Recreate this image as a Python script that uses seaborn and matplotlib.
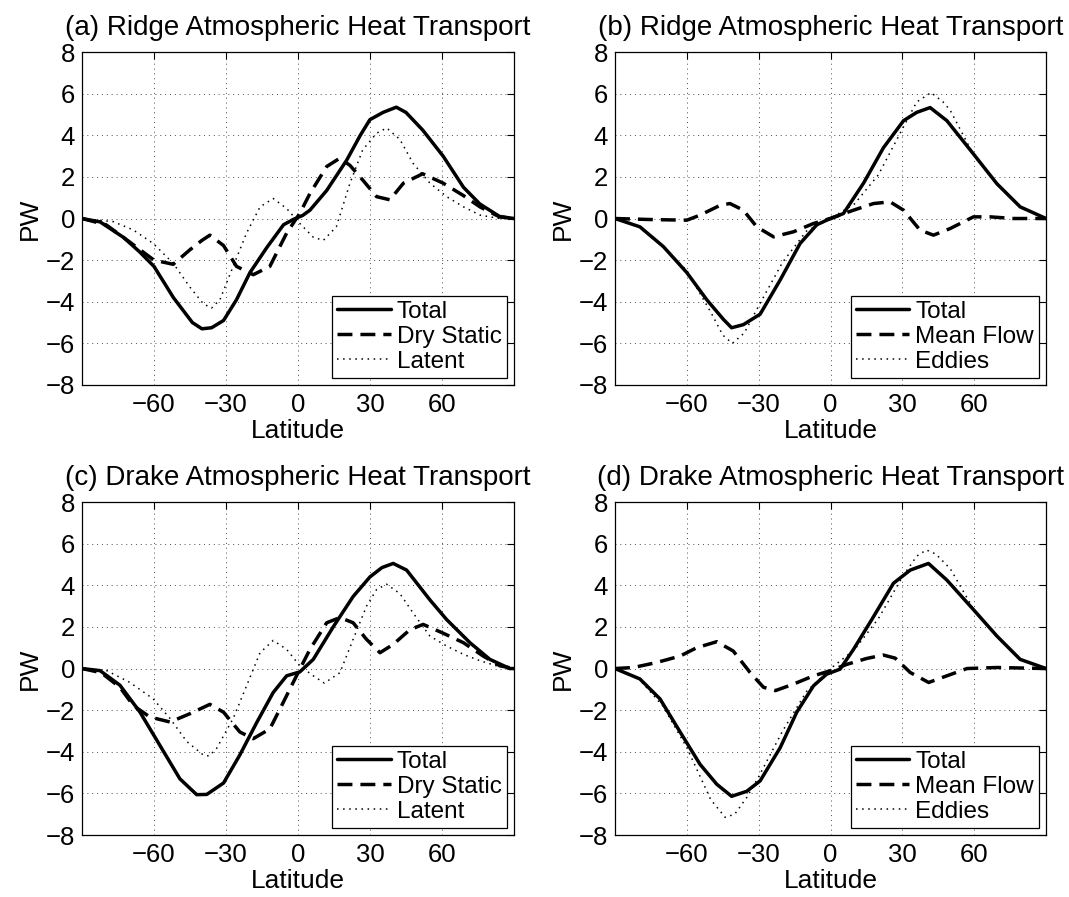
import matplotlib
matplotlib.use('Agg')
import matplotlib.pyplot as plt
import seaborn as sns

# ---- (a) Ridge: Total / Dry Static / Latent ----
lat_a_tot = [-90, -82.5, -72.8, -66, -60, -51.9, -44, -40, -36, -31, -25.6, -20, -13, -6, -2, 0, 2, 5, 12, 20.3, 26, 30, 35.5, 41, 45, 52, 60.5, 69, 75.8, 84, 90]
a_tot = [0, -0.16, -0.9, -1.6, -2.3, -3.8, -5.0, -5.3, -5.25, -4.9, -3.9, -2.6, -1.4, -0.3, -0.05, 0.05, 0.15, 0.4, 1.35, 2.8, 4.0, 4.75, 5.1, 5.35, 5.1, 4.25, 3.0, 1.5, 0.7, 0.1, 0]
lat_a_dry = [-90, -80, -72.8, -60, -52, -45, -40, -36.7, -31, -25.6, -18.6, -11.7, -4.7, 0.8, 5, 12, 17.5, 21.7, 27, 32.8, 38.3, 44, 52, 60.5, 69, 76, 84, 90]
a_dry = [0, -0.3, -0.9, -2.0, -2.2, -1.5, -1.05, -0.8, -1.3, -2.3, -2.7, -2.3, -0.7, 0.25, 1.2, 2.5, 2.9, 2.55, 1.85, 1.05, 0.9, 1.7, 2.15, 1.7, 1.1, 0.55, 0.08, 0]
lat_a_lat = [-90, -77, -68.6, -60.3, -52, -45, -39.4, -36, -32.5, -27, -21.4, -15.8, -10.3, -4.7, 0.8, 6.4, 10.6, 16, 21.7, 27, 32.8, 37, 42.5, 48, 55, 62, 69, 76, 84, 90]
a_lat = [0, -0.15, -0.55, -1.2, -2.15, -3.3, -4.1, -4.3, -3.9, -2.3, -0.7, 0.56, 0.96, 0.48, -0.24, -0.9, -1.05, -0.4, 1.7, 3.3, 4.1, 4.35, 3.8, 2.65, 1.7, 1.05, 0.56, 0.16, 0, 0]

# ---- (b) Ridge: Total / Mean Flow / Eddies ----
lat_b_tot = [-90, -79.6, -69.8, -60, -51.7, -44.7, -41.3, -36.4, -29.4, -21, -12.7, -5.7, -1.6, 5.4, 13.8, 22.1, 30.5, 36, 41.6, 48.6, 59.7, 69.5, 79.2, 90]
b_tot = [0, -0.4, -1.35, -2.6, -3.9, -4.85, -5.25, -5.1, -4.6, -2.95, -1.2, -0.3, -0.08, 0.24, 1.7, 3.4, 4.7, 5.1, 5.33, 4.7, 3.1, 1.67, 0.56, 0]
lat_b_mf = [-90, -75, -60, -54.5, -46, -42, -36.4, -30.8, -23.8, -15.5, -7.1, -0.2, 9.6, 18, 24.9, 30.5, 37.4, 43, 50, 59.7, 66.7, 76.4, 90]
b_mf = [0, -0.05, -0.08, 0.16, 0.64, 0.72, 0.4, -0.4, -0.88, -0.64, -0.24, 0, 0.4, 0.72, 0.8, 0.4, -0.56, -0.8, -0.48, 0.08, 0.08, 0, 0]
lat_b_edd = [-90, -80, -70, -60, -50, -45, -41, -36, -30, -20, -10, 0, 10, 20, 30, 36, 42, 47, 50, 60, 70, 80, 90]
b_edd = [0, -0.4, -1.35, -2.5, -4.5, -5.6, -6.0, -5.5, -4.2, -2.1, -0.6, 0, 0.7, 2.1, 4.3, 5.6, 6.05, 5.6, 5.2, 3.0, 1.6, 0.5, 0]

# ---- (c) Drake: Total / Dry Static / Latent ----
lat_c_tot = [-90, -82.5, -74.2, -65.8, -57.5, -49.2, -42.2, -38, -31, -24.2, -17.2, -10.3, -4.7, 0.8, 6.4, 14.7, 23, 30, 35, 39.7, 45.3, 55, 62, 71.7, 80, 88.3, 90]
c_tot = [0, -0.1, -0.8, -2.1, -3.7, -5.3, -6.06, -6.05, -5.5, -4.15, -2.6, -1.15, -0.35, -0.16, 0.44, 2.0, 3.46, 4.4, 4.85, 5.05, 4.73, 3.3, 2.35, 1.24, 0.44, 0, 0]
lat_c_dry = [-90, -82, -74.2, -68.6, -61.7, -53.3, -45, -36.7, -31, -24.2, -18.6, -11.7, -6, -0.6, 5, 12, 17.5, 23, 28.6, 34.2, 39.7, 46.7, 52.2, 60.5, 69, 77.2, 84.2, 90]
c_dry = [0, -0.2, -0.9, -1.78, -2.33, -2.57, -2.17, -1.72, -2.1, -3.05, -3.37, -2.9, -1.6, -0.35, 0.92, 2.2, 2.45, 2.2, 1.4, 0.76, 1.16, 1.87, 2.12, 1.7, 1.24, 0.6, 0.13, 0]
lat_c_lat = [-90, -79.7, -70, -60.3, -53.3, -46.4, -39.4, -37, -33.9, -27, -21.4, -15.8, -10.3, -4.7, 0.8, 6.4, 11, 17.5, 23, 28.6, 32.8, 37, 42.5, 48, 55, 62, 69, 76, 82.8, 90]
c_lat = [0, -0.1, -0.67, -1.46, -2.4, -3.5, -4.16, -4.2, -3.84, -2.4, -0.83, 0.76, 1.35, 0.92, 0.13, -0.35, -0.7, -0.2, 1.4, 3.0, 3.8, 4.05, 3.6, 2.67, 1.56, 1.08, 0.68, 0.37, 0.13, 0]

# ---- (d) Drake: Total / Mean Flow / Eddies ----
lat_d_tot = [-90, -79.6, -71.2, -62.8, -54.5, -47.5, -41.3, -35, -29.4, -21, -14.1, -7.1, -1.6, 4, 9.6, 18, 26.3, 33.3, 40.9, 48.6, 59.7, 69.5, 79.2, 90]
d_tot = [0, -0.5, -1.46, -3.05, -4.6, -5.56, -6.14, -5.9, -5.4, -3.8, -2.1, -0.83, -0.27, -0.03, 0.92, 2.5, 4.1, 4.73, 5.05, 4.25, 2.83, 1.56, 0.44, 0]
lat_d_mf = [-90, -82.3, -72.6, -62.8, -55.9, -47.5, -40.6, -33.6, -28, -23, -15.5, -7.1, -0.2, 6.8, 15, 22, 27, 33.3, 41, 48.6, 57, 69.5, 90]
d_mf = [0, 0.05, 0.29, 0.6, 1.0, 1.29, 0.84, -0.19, -0.9, -1.06, -0.75, -0.35, -0.11, 0.2, 0.48, 0.65, 0.5, -0.19, -0.67, -0.35, 0, 0.05, 0]
lat_d_edd = [-90, -80, -70, -60, -50, -44, -40, -35, -30, -20, -10, 0, 10, 20, 30, 36, 40, 44, 50, 60, 70, 80, 90]
d_edd = [0, -0.5, -1.8, -3.8, -6.3, -7.15, -7.0, -6.2, -5.2, -3.0, -1.1, 0, 0.9, 2.4, 4.4, 5.4, 5.7, 5.5, 4.8, 2.8, 1.5, 0.4, 0]

titles = ["(a) Ridge Atmospheric Heat Transport", "(b) Ridge Atmospheric Heat Transport",
          "(c) Drake Atmospheric Heat Transport", "(d) Drake Atmospheric Heat Transport"]
labels_left = ["Total", "Dry Static", "Latent"]
labels_right = ["Total", "Mean Flow", "Eddies"]
xticks = [-60, -30, 0, 30, 60]
yticks = list(range(-8, 9, 2))

sns.set_style("white")
plt.rcParams['font.family'] = ['Liberation Sans', 'DejaVu Sans']
plt.rcParams['font.size'] = 18
plt.rcParams['text.color'] = 'black'
plt.rcParams['axes.labelcolor'] = 'black'
plt.rcParams['xtick.color'] = 'black'
plt.rcParams['ytick.color'] = 'black'

fig = plt.figure(figsize=(10.69, 8.97), dpi=100)
positions = [
    [0.0767, 0.5708, 0.404, 0.3712],
    [0.5753, 0.5708, 0.4032, 0.3712],
    [0.0767, 0.0691, 0.404, 0.3712],
    [0.5753, 0.0691, 0.4032, 0.3712],
]
panels = [
    [(lat_a_tot, a_tot), (lat_a_dry, a_dry), (lat_a_lat, a_lat)],
    [(lat_b_tot, b_tot), (lat_b_mf, b_mf), (lat_b_edd, b_edd)],
    [(lat_c_tot, c_tot), (lat_c_dry, c_dry), (lat_c_lat, c_lat)],
    [(lat_d_tot, d_tot), (lat_d_mf, d_mf), (lat_d_edd, d_edd)],
]
styles = [
    dict(linestyle="-", linewidth=2.5),
    dict(linestyle=(0, (4.3, 2.3)), linewidth=2.5),
    dict(linestyle=(0, (1.0, 3.0)), linewidth=1.1),
]

for i, pos in enumerate(positions):
    ax = fig.add_axes(pos)
    labels = labels_left if i % 2 == 0 else labels_right
    for (x, y), lab, st in zip(panels[i], labels, styles):
        sns.lineplot(x=x, y=y, ax=ax, color="black", label=lab, sort=False, **st)
    ax.set_xlim(-90, 90)
    ax.set_ylim(-8, 8)
    ax.set_xticks(xticks)
    ax.set_yticks(yticks)
    ax.grid(True, color="0.3", linestyle=(0, (1, 4)), linewidth=0.7)
    ax.tick_params(direction="in", top=True, right=True, length=5, width=0.8,
                   labelsize=18.5, color="black", labelcolor="black")
    ax.tick_params(axis="x", pad=6)
    ax.tick_params(axis="y", pad=5)
    for s in ax.spines.values():
        s.set_color("black")
        s.set_linewidth(0.9)
    ax.set_title(titles[i], fontsize=20, pad=12, color="black")
    ax.set_xlabel("Latitude", fontsize=19, labelpad=1)
    ax.set_ylabel("PW", fontsize=19, labelpad=3)
    leg = ax.legend(loc="lower right", fontsize=17.5, frameon=True, fancybox=False,
                    framealpha=1, edgecolor="black", borderaxespad=0.3,
                    handlelength=2.2, handletextpad=0.25, labelspacing=0.12,
                    borderpad=0.2)
    leg.get_frame().set_linewidth(0.9)
    for t in leg.get_texts():
        t.set_color("black")

plt.savefig("out.png", dpi=100)
plt.close()
